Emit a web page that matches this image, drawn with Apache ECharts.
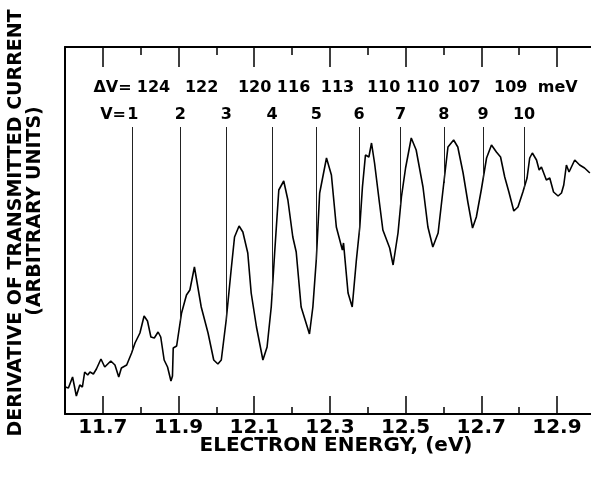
<!DOCTYPE html>
<html>
<head>
<meta charset="utf-8">
<script src="https://cdn.jsdelivr.net/npm/echarts@6/dist/echarts.min.js"></script>
<style>
  html, body { margin: 0; padding: 0; background: #fff; }
  #chart { width: 591px; height: 478px; }
</style>
</head>
<body>
<div id="chart"></div>
<script>
// electron energy (eV) and derivative signal (arbitrary units)
const energy = [
  11.601, 11.609, 11.620, 11.630, 11.639, 11.646, 11.652, 11.660, 11.666, 11.675,
  11.683, 11.695, 11.705, 11.721, 11.732, 11.742, 11.749, 11.763, 11.776, 11.785,
  11.789, 11.798, 11.809, 11.818, 11.827, 11.836, 11.846, 11.853, 11.862, 11.871,
  11.880, 11.884, 11.886, 11.895, 11.908, 11.921, 11.930, 11.942, 11.960, 11.978,
  11.993, 12.004, 12.013, 12.026, 12.039, 12.048, 12.060, 12.070, 12.083, 12.092,
  12.106, 12.123, 12.134, 12.145, 12.154, 12.165, 12.178, 12.189, 12.202, 12.211,
  12.224, 12.246, 12.255, 12.264, 12.273, 12.291, 12.304, 12.317, 12.333, 12.336,
  12.348, 12.359, 12.370, 12.379, 12.386, 12.394, 12.403, 12.410, 12.418, 12.431,
  12.440, 12.458, 12.467, 12.480, 12.489, 12.500, 12.515, 12.528, 12.546, 12.559,
  12.572, 12.586, 12.601, 12.612, 12.627, 12.638, 12.652, 12.665, 12.677, 12.687,
  12.700, 12.714, 12.727, 12.740, 12.751, 12.762, 12.773, 12.786, 12.797, 12.810,
  12.821, 12.828, 12.835, 12.846, 12.853, 12.859, 12.872, 12.881, 12.891, 12.903,
  12.912, 12.918, 12.925, 12.932, 12.947, 12.960, 12.973, 12.987
];
const signal = [
  27, 26, 37, 18, 29, 27, 42, 39, 42, 40,
  45, 55, 47, 53, 49, 37, 46, 49, 61, 71,
  69, 81, 98, 93, 77, 76, 82, 77, 54, 47,
  33, 38, 66, 68, 101, 119, 124, 147, 107, 81,
  54, 50, 54, 94, 144, 177, 188, 182, 161, 121,
  87, 54, 67, 107, 161, 224, 233, 214, 177, 162,
  107, 80, 107, 154, 221, 256, 239, 187, 164, 171,
  121, 107, 154, 187, 227, 259, 257, 271, 251, 211,
  184, 166, 149, 181, 217, 246, 276, 264, 227, 187,
  167, 181, 231, 267, 274, 267, 241, 211, 186, 197,
  224, 256, 269, 262, 257, 237, 222, 203, 207, 222,
  236, 256, 261, 254, 244, 247, 234, 236, 222, 218,
  221, 229, 249, 242, 254, 249, 246, 241
];

// vibrational levels and their spacings
const levelLabels = ['1', '2', '3', '4', '5', '6', '7', '8', '9', '10'];
const levelEnergy = [11.779, 11.905, 12.026, 12.147, 12.264, 12.377, 12.487, 12.601, 12.705, 12.813];
const spacingLabels = ['124', '122', '120', '116', '113', '110', '110', '107', '109'];
const spacingEnergy = [11.834, 11.961, 12.101, 12.204, 12.320, 12.442, 12.545, 12.654, 12.778];

const majorTicks = [11.7, 11.9, 12.1, 12.3, 12.5, 12.7, 12.9];
const minorTicks = [11.8, 12.0, 12.2, 12.4, 12.6, 12.8];

const markerTop = 287;
const spacingRow = 326;
const levelRow = 299;

const ink = '#000';
const font = 'DejaVu Sans';

function curveAt(e) {
  for (let i = 1; i < energy.length; i++) {
    if (energy[i] >= e) {
      const t = (e - energy[i - 1]) / (energy[i] - energy[i - 1]);
      return signal[i - 1] + t * (signal[i] - signal[i - 1]);
    }
  }
  return signal[signal.length - 1];
}

const textItems = [];
spacingLabels.forEach((s, i) => textItems.push({ value: [spacingEnergy[i], spacingRow], name: s, align: 'center' }));
levelLabels.forEach((s, i) => textItems.push({ value: [levelEnergy[i], levelRow], name: s, align: 'center' }));
textItems.push({ value: [11.776, spacingRow], name: 'ΔV=', align: 'right' });
textItems.push({ value: [11.761, levelRow], name: 'V=', align: 'right' });
textItems.push({ value: [12.902, spacingRow], name: 'meV', align: 'center' });

function xAxisPart(pos, ticks, len, withLine, withLabels) {
  return {
    type: 'value',
    position: pos,
    min: 11.6,
    max: 12.99,
    axisLine: { show: withLine, onZero: false, lineStyle: { color: ink, width: 2 } },
    axisTick: { show: true, inside: true, length: len, customValues: ticks, lineStyle: { color: ink, width: 1.5 } },
    axisLabel: withLabels ? {
      show: true, customValues: ticks, margin: 4, color: ink,
      fontSize: 20, fontWeight: 'bold', fontFamily: font,
      formatter: v => v.toFixed(1)
    } : { show: false },
    splitLine: { show: false }
  };
}

const bottomAxis = xAxisPart('bottom', majorTicks, 18, true, true);
bottomAxis.name = 'ELECTRON ENERGY, (eV)';
bottomAxis.nameLocation = 'middle';
bottomAxis.nameGap = 22;
bottomAxis.nameMoveOverlap = false;
bottomAxis.nameTextStyle = { color: ink, fontSize: 20, fontWeight: 'bold', fontFamily: font, padding: [0, 0, 0, 16] };

const labelStyle = {
  show: true,
  position: 'inside',
  formatter: p => p.name,
  color: ink,
  opacity: 1,
  fontSize: 16,
  fontWeight: 'bold',
  fontFamily: font,
  verticalAlign: 'middle'
};

const chart = echarts.init(document.getElementById('chart'), null, { renderer: 'canvas' });
chart.setOption({
  backgroundColor: '#fff',
  animation: false,
  grid: { left: 65, right: 0, top: 47, bottom: 64 },
  xAxis: [
    bottomAxis,
    xAxisPart('bottom', minorTicks, 7, false, false),
    xAxisPart('top', majorTicks, 20, true, false),
    xAxisPart('top', minorTicks, 8, false, false)
  ],
  yAxis: {
    type: 'value',
    min: 0,
    max: 367,
    axisLine: { show: true, onZero: false, lineStyle: { color: ink, width: 2 } },
    axisTick: { show: false },
    axisLabel: { show: false },
    splitLine: { show: false }
  },
  graphic: [
    {
      type: 'text', x: 16, y: 223, rotation: Math.PI / 2,
      style: { text: 'DERIVATIVE OF TRANSMITTED CURRENT', fill: ink, font: 'bold 19px "DejaVu Sans"',
        textAlign: 'center', textVerticalAlign: 'middle', align: 'center', verticalAlign: 'middle' }
    },
    {
      type: 'text', x: 35, y: 211, rotation: Math.PI / 2,
      style: { text: '(ARBITRARY UNITS)', fill: ink, font: 'bold 19px "DejaVu Sans"',
        textAlign: 'center', textVerticalAlign: 'middle', align: 'center', verticalAlign: 'middle' }
    }
  ],
  series: [
    {
      type: 'line',
      data: energy.map((e, i) => [e, signal[i]]),
      showSymbol: false,
      symbol: 'none',
      lineStyle: { color: ink, width: 1.6 },
      markLine: {
        silent: true,
        symbol: ['none', 'none'],
        label: { show: false },
        lineStyle: { color: '#222', width: 1, type: 'solid' },
        data: levelEnergy.map(e => [{ coord: [e, markerTop] }, { coord: [e, curveAt(e)] }])
      }
    },
    {
      type: 'scatter',
      symbolSize: 1,
      silent: true,
      itemStyle: { color: 'rgba(0,0,0,0)' },
      data: textItems.map(t => ({
        value: t.value,
        name: t.name,
        label: Object.assign({}, labelStyle, { align: t.align })
      })),
      label: labelStyle
    }
  ]
});
</script>
</body>
</html>
